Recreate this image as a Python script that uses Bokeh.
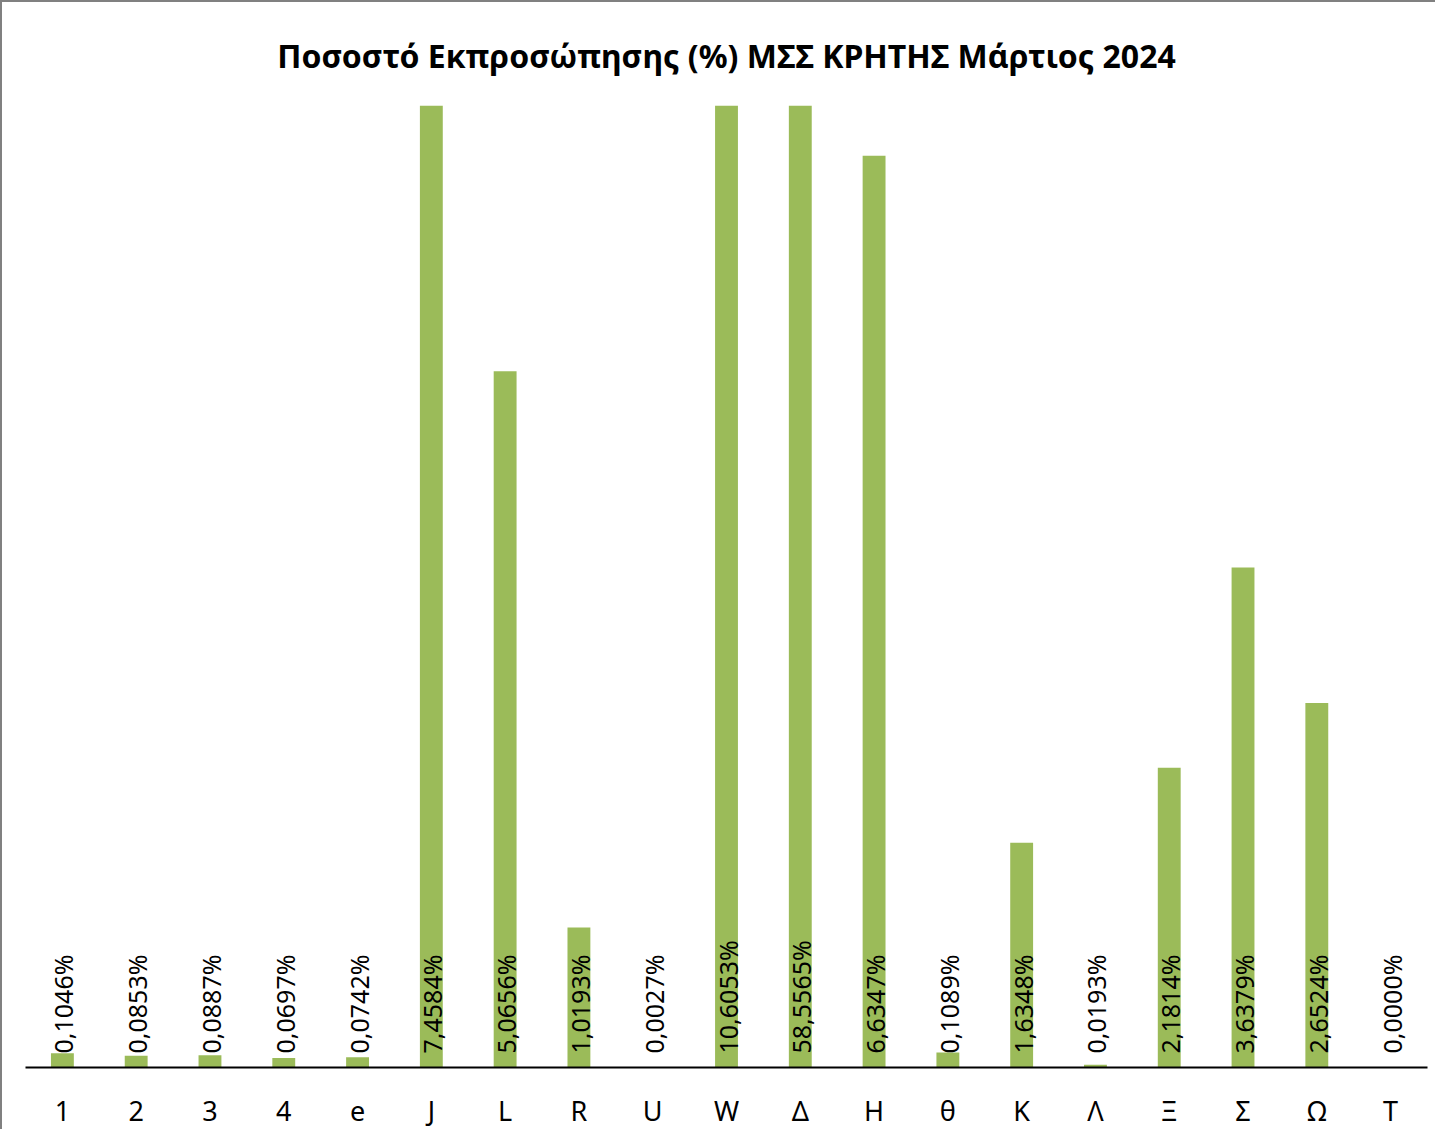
import math
from bokeh.plotting import figure
from bokeh.models import ColumnDataSource, FactorRange, Range1d
from bokeh.core.properties import value
from bokeh.embed import file_html
from bokeh.resources import INLINE

categories = ["1", "2", "3", "4", "e", "J", "L", "R", "U", "W", "Δ", "H", "θ", "K", "Λ", "Ξ", "Σ", "Ω", "T"]
percent = [0.1046, 0.0853, 0.0887, 0.0697, 0.0742, 7.4584, 5.0656, 1.0193, 0.0027, 10.6053,
           58.5565, 6.6347, 0.1089, 1.6348, 0.0193, 2.1814, 3.6379, 2.6524, 0.0000]
title_text = "Ποσοστό Εκπροσώπησης (%) ΜΣΣ ΚΡΗΤΗΣ Μάρτιος 2024"
y_max = 7.0

labels = [f"{v:.4f}".replace(".", ",") + "%" for v in percent]
src = ColumnDataSource(dict(cat=categories, val=percent, lab=labels, zero=[0] * len(categories)))

FONT = "Noto Sans"

p = figure(
    width=1435, height=1129,
    x_range=FactorRange(factors=categories, range_padding=0),
    y_range=Range1d(0, y_max),
    output_backend="svg", toolbar_location=None,
    min_border_left=23, min_border_right=10, min_border_top=100, min_border_bottom=54,
)
p.styles = {"border-left": "2px solid #808080", "border-top": "2px solid #808080"}

p.title.text = title_text
p.title.align = "center"
p.title.text_font = FONT
p.title.text_font_size = "32px"
p.title.text_font_style = "bold"
p.title.text_color = "#000000"
p.title.standoff = 58

p.vbar(x="cat", top="val", width=0.31, source=src, fill_color="#9BBB59", line_color=None)

p.text(x="cat", y="zero", text="lab", source=src, angle=math.pi / 2,
       text_align="left", text_baseline="middle", x_offset=1, y_offset=-14,
       text_font=value(FONT), text_font_size="25px", text_color="#000000")

p.xgrid.visible = False
p.ygrid.visible = False
p.yaxis.visible = False
p.outline_line_color = None

ax = p.xaxis[0]
ax.axis_line_color = "#000000"
ax.axis_line_width = 2
ax.major_tick_line_color = None
ax.minor_tick_line_color = None
ax.major_label_text_font = FONT
ax.major_label_text_font_size = "27px"
ax.major_label_text_color = "#000000"
ax.major_label_standoff = 18

open("out.html", "w").write(file_html(p, INLINE))
